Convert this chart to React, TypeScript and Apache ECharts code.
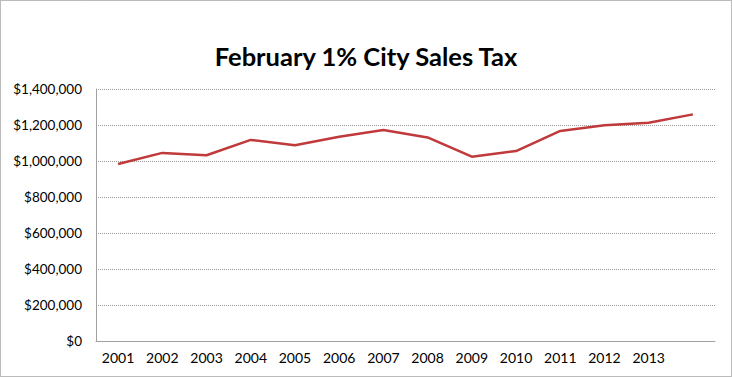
import React, { useEffect, useRef } from "react";
import * as echarts from "echarts";

const years = ["2001", "2002", "2003", "2004", "2005", "2006", "2007", "2008", "2009", "2010", "2011", "2012", "2013", ""];
const salesTax = [983000, 1045000, 1032000, 1117000, 1087000, 1135000, 1172000, 1131000, 1024000, 1055000, 1167000, 1198000, 1213000, 1259000];
const titleText = "February 1% City Sales Tax";

const fmt = (v: number) => "$" + v.toLocaleString("en-US");

export default function App() {
  const ref = useRef<HTMLDivElement>(null);
  useEffect(() => {
    if (!ref.current) return;
    const chart = echarts.init(ref.current, null, { renderer: "svg" });
    chart.setOption({
      animation: false,
      backgroundColor: "#ffffff",
      title: {
        text: titleText,
        left: "center",
        top: 38,
        textStyle: { fontFamily: "Lato", fontWeight: "bold", fontSize: 25.5, color: "#000" },
      },
      grid: { left: 96, right: 17, top: 89, bottom: 36, containLabel: false },
      xAxis: {
        type: "category",
        data: years,
        boundaryGap: true,
        axisLine: { show: true, lineStyle: { color: "#a0a0a0", width: 1 } },
        axisTick: { show: false },
        axisLabel: { fontFamily: "Lato", fontSize: 14, color: "#000", margin: 9, interval: 0 },
      },
      yAxis: {
        type: "value",
        min: 0,
        max: 1400000,
        interval: 200000,
        axisLine: { show: true, lineStyle: { color: "#a0a0a0", width: 1 } },
        axisTick: { show: false },
        axisLabel: { fontFamily: "Lato", fontSize: 13.5, color: "#000", margin: 14, formatter: fmt },
        splitLine: { show: true, lineStyle: { color: "#9a9a9a", type: [1, 1], width: 1 } },
      },
      series: [
        {
          type: "line",
          data: salesTax,
          symbol: "none",
          lineStyle: { color: "#c0393b", width: 2.5 },
        },
      ],
      graphic: [
        {
          type: "rect",
          shape: { x: 0.5, y: 0.5, width: 731, height: 376 },
          style: { fill: "none", stroke: "#777", lineWidth: 1, lineDash: [1, 1] },
          silent: true,
        },
      ],
    });
    return () => chart.dispose();
  }, []);
  return (
    <div
      ref={ref}
      style={{ position: "fixed", left: 0, top: 0, width: 732, height: 377 }}
    />
  );
}
